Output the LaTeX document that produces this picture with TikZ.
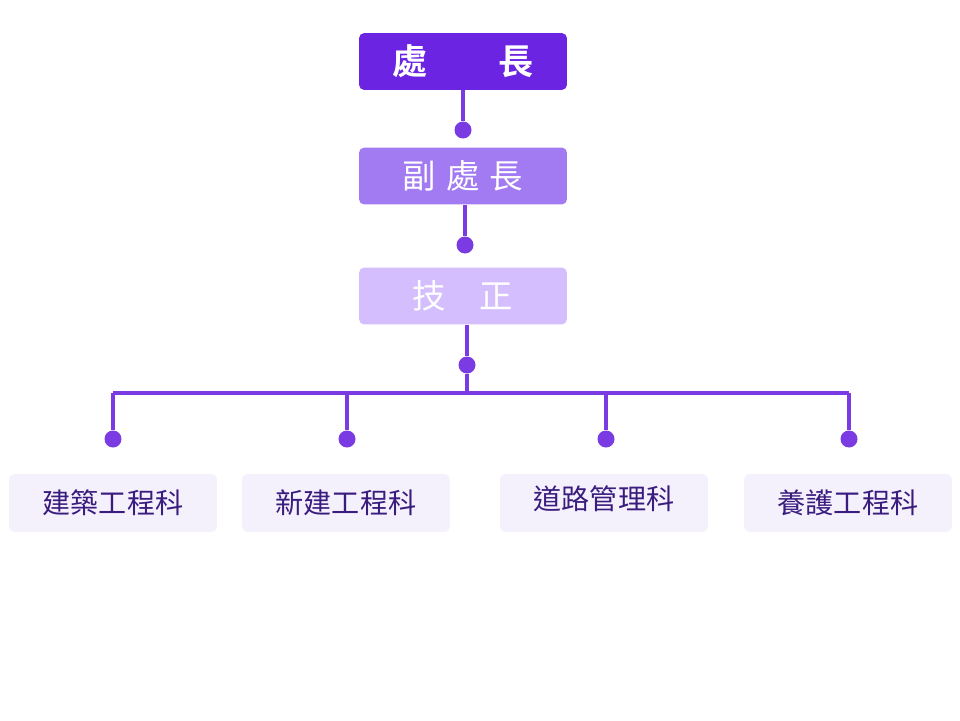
\documentclass[tikz,border=0pt]{standalone}
\usepackage{fontspec}
\newfontfamily\cjk{Noto Sans CJK TC}
\newfontfamily\cjkb{Noto Sans CJK TC Bold}
\definecolor{c1}{HTML}{6A24E2}
\definecolor{c2}{HTML}{A27BF2}
\definecolor{c3}{HTML}{D4BEFD}
\definecolor{ln}{HTML}{7A3BE3}
\definecolor{lb}{HTML}{F4F1FD}
\definecolor{tx}{HTML}{3A1C7E}
\begin{document}
\begin{tikzpicture}[x=0.02cm,y=-0.02cm,
 top/.style={rounded corners=3pt,minimum width=4.16cm,minimum height=1.14cm,text=white,inner sep=0},
 low/.style={rounded corners=3pt,fill=lb,minimum width=4.16cm,minimum height=1.16cm,text=tx,inner sep=0,font=\cjk\fontsize{16}{18}\selectfont},
 dot/.style={circle,fill=ln,minimum size=0.34cm,inner sep=0},
 con/.style={draw=ln,line width=2.2pt}]
\useasboundingbox (0,0) rectangle (960,720);
\node[top,fill=c1,font=\cjkb\fontsize{20}{22}\selectfont] (a) at (463,61.5) {處\hspace{2em}長};
\node[top,fill=c2,font=\cjk\fontsize{19}{22}\selectfont] (b) at (463,176) {副\hspace{0.3em}處\hspace{0.3em}長};
\node[top,fill=c3,font=\cjk\fontsize{19}{22}\selectfont] (c) at (463,296) {技\hspace{1em}正};
\node[dot] (d1) at (463,130) {};
\node[dot] (d2) at (465,245) {};
\node[dot] (d3) at (467,365) {};
\draw[con] (a.south -| d1) -- (d1);
\draw[con] (b.south -| d2) -- (d2);
\draw[con] (c.south -| d3) -- (d3);
\coordinate (hl) at (113,393);
\coordinate (hr) at (849,393);
\draw[con] (d3) -- (467,393);
\draw[con] (hl) -- (hr);
\foreach \x/\n in {113/e1,347/e2,606/e3,849/e4}{
 \node[dot] (\n) at (\x,439) {};
 \draw[con] (\x,393) -- (\n);
}
\node[low] (f1) at (113,503) {建築工程科};
\node[low] (f2) at (346,503) {新建工程科};
\node[low,text depth=6pt] (f3) at (604,503) {道路管理科};
\node[low] (f4) at (848,503) {養護工程科};
\end{tikzpicture}
\end{document}
